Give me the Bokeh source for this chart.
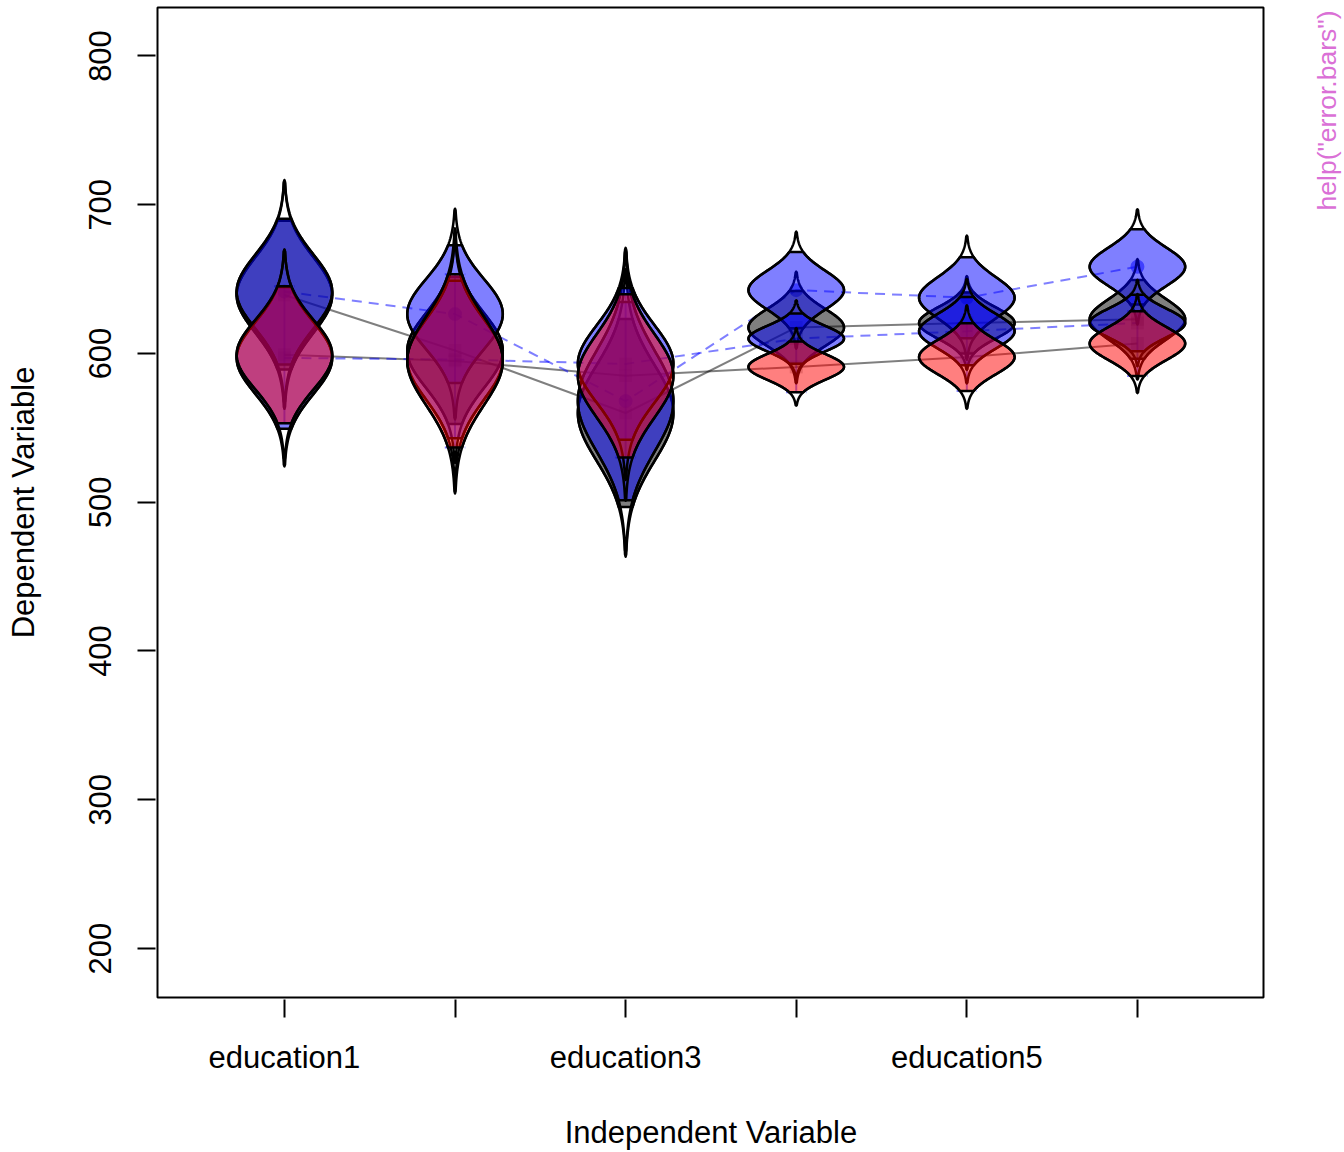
import math
import numpy as np
from bokeh.plotting import figure
from bokeh.models import Range1d, FixedTicker, LinearAxis, Label
from bokeh.embed import file_html
from bokeh.resources import INLINE

# ---------------- data ----------------
categories = ["education1", "education2", "education3", "education4", "education5", "education6"]
x_vals = [1, 2, 3, 4, 5, 6]
y_ticks = [200, 300, 400, 500, 600, 700, 800]

mean_grey = [639.3, 602.0, 560.0, 617.5, 620.5, 623.0]
se_grey = [25.5, 25.2, 32.2, 12.5, 10.5, 13.5]

mean_blue1 = [641.6, 626.5, 568.0, 642.6, 637.5, 658.3]
se_blue1 = [25.0, 23.6, 34.0, 13.1, 13.9, 12.9]

mean_blue2 = [597.0, 596.0, 593.0, 610.0, 615.0, 620.5]
se_blue2 = [24.3, 27.0, 26.0, 8.6, 11.7, 9.7]

mean_red = [599.2, 595.0, 585.0, 591.0, 597.6, 606.7]
se_red = [23.5, 29.7, 28.0, 8.7, 11.6, 11.1]

x_title = "Independent Variable"
y_title = "Dependent Variable"
help_text = 'help("error.bars")'

FONT = "Liberation Sans"

# plotting box (R style "usr" limits) in data units
box_x = (0.256, 6.739)
box_y = (167.06, 832.6)
PX_X = 1106 / (box_x[1] - box_x[0])   # pixels per x unit
PX_Y = 990 / (box_y[1] - box_y[0])    # pixels per y unit

# the Bokeh frame is a bit larger than the box (so the box edges are not clipped)
# and reaches to the right edge of the canvas so the side note can live in it
x_range = Range1d(box_x[0] - 2 / PX_X, box_x[0] + 1187 / PX_X)
y_range = Range1d(box_y[0] - 2 / PX_Y, box_y[1] + 2 / PX_Y)

p = figure(width=1344, height=1152, x_range=x_range, y_range=y_range,
           min_border_left=155, min_border_right=0, min_border_top=5, min_border_bottom=153,
           output_backend="svg", toolbar_location=None)
p.xgrid.visible = False
p.ygrid.visible = False
p.outline_line_color = None
p.background_fill_color = "white"
p.border_fill_color = "white"

# ---------------- eye shapes ----------------
HALF = 0.28
z_out = np.linspace(-3, 3, 121)
d_out = np.exp(-z_out ** 2 / 2)
d_out[[0, -1]] = 0.0
z_in = np.linspace(-1.96, 1.96, 81)
d_in = np.exp(-z_in ** 2 / 2)


def eye(z, d, x, m, s):
    xs = np.concatenate([x - HALF * d, x + HALF * d[::-1]])
    ys = np.concatenate([m + z * s, m + z[::-1] * s])
    return list(xs), list(ys)


def shapes(means, ses):
    fx, fy, ox, oy = [], [], [], []
    for x, m, s in zip(x_vals, means, ses):
        a, b = eye(z_in, d_in, x, m, s)
        fx.append(a); fy.append(b)
        a, b = eye(z_out, d_out, x, m, s)
        ox.append(a); oy.append(b)
    return fx, fy, ox, oy


# ---------------- connecting lines (drawn first) ----------------
p.line(x_vals, mean_grey, line_color="black", line_alpha=0.5, line_width=2)
p.line(x_vals, mean_red, line_color="black", line_alpha=0.5, line_width=2)
p.line(x_vals, mean_blue1, line_color="blue", line_alpha=0.5, line_width=2, line_dash="10 7")
p.line(x_vals, mean_blue2, line_color="blue", line_alpha=0.5, line_width=2, line_dash="10 7")

# error bars (visible ones, blue dashed)
lo = [m - 1.96 * s for m, s in zip(mean_red, se_red)]
hi = [m + 1.96 * s for m, s in zip(mean_red, se_red)]
p.segment(x0=x_vals, y0=lo, x1=x_vals, y1=hi, line_color="blue", line_alpha=0.5, line_width=2)
cap = 0.06
xl = [x - cap for x in x_vals]
xr = [x + cap for x in x_vals]
p.segment(x0=xl, y0=lo, x1=xr, y1=lo, line_color="blue", line_alpha=0.5, line_width=2, line_dash="6 4")
p.segment(x0=xl, y0=hi, x1=xr, y1=hi, line_color="blue", line_alpha=0.5, line_width=2, line_dash="6 4")

# mean markers
p.scatter(x_vals, mean_blue1, marker="circle", size=14, fill_color="blue", fill_alpha=0.5, line_color=None)
p.scatter(x_vals, mean_grey, marker="square", size=13, fill_color="black", fill_alpha=0.2, line_color=None)
p.scatter(x_vals, mean_blue2, marker="square", size=13, fill_color="black", fill_alpha=0.2, line_color=None)
p.scatter(x_vals, mean_red, marker="square", size=13, fill_color="black", fill_alpha=0.2, line_color=None)

for means, ses, col in [(mean_grey, se_grey, "black"),
                        (mean_blue1, se_blue1, "blue"),
                        (mean_blue2, se_blue2, "blue"),
                        (mean_red, se_red, "red")]:
    fx, fy, ox, oy = shapes(means, ses)
    p.patches(fx, fy, fill_color=col, fill_alpha=0.5, line_color="black", line_width=2.5, line_join="round")
    p.patches(ox, oy, fill_color=None, line_color="black", line_width=2.5, line_join="round")

# plot box
p.quad(left=[box_x[0]], right=[box_x[1]], bottom=[box_y[0]], top=[box_y[1]],
       fill_color=None, line_color="black", line_width=2)

# ---------------- axes ----------------
xa = p.xaxis[0]
xa.ticker = FixedTicker(ticks=x_vals)
xa.major_label_overrides = {x: (c if i % 2 == 0 else "") for i, (x, c) in enumerate(zip(x_vals, categories))}
ya = p.yaxis[0]
ya.ticker = FixedTicker(ticks=y_ticks)
ya.major_label_orientation = "vertical"
ya.axis_label = y_title

# x title as a second (tick-less) axis, centred on the box
title_pos = (x_vals[0] + x_vals[-1]) / 2
xa2 = LinearAxis(ticker=FixedTicker(ticks=[title_pos]), major_label_overrides={title_pos: x_title})
p.add_layout(xa2, "below")

for ax in (xa, ya, xa2):
    ax.axis_line_color = None
    ax.major_tick_out = 18
    ax.major_tick_in = 0
    ax.major_tick_line_width = 2
    ax.major_tick_line_color = "black"
    ax.minor_tick_out = 0
    ax.minor_tick_in = 0
    ax.major_label_text_font = FONT
    ax.major_label_text_font_size = "31px"
    ax.major_label_text_color = "black"
    ax.axis_label_text_font = FONT
    ax.axis_label_text_font_size = "31px"
    ax.axis_label_text_font_style = "normal"
    ax.axis_label_text_color = "black"

xa2.major_tick_out = 0
xa2.major_tick_line_color = None

xa.major_label_standoff = 22
xa2.major_label_standoff = 37
ya.major_label_standoff = 26
ya.axis_label_standoff = 46

# right-side note, read bottom-to-top, ending at the top of the box
help_lbl = Label(x=box_x[1] + 63 / PX_X, y=box_y[1] - 3 / PX_Y, text=help_text, angle=math.pi / 2,
                 text_align="right", text_baseline="middle", text_color="orchid",
                 text_font=FONT, text_font_size="26.5px")
p.add_layout(help_lbl)

open("out.html", "w").write(file_html(p, INLINE))
